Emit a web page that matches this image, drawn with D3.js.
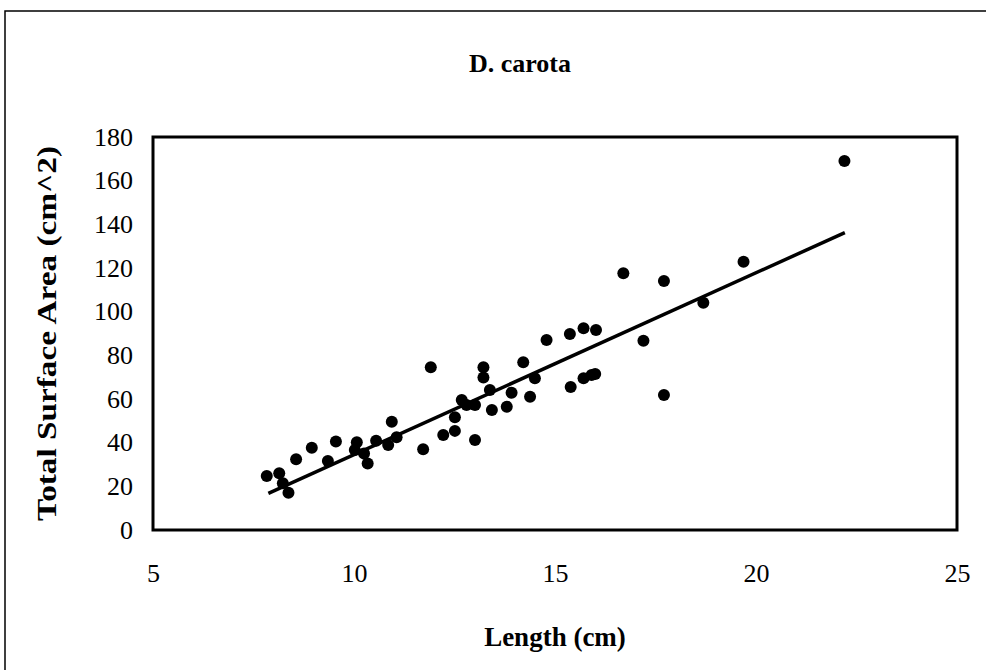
<!DOCTYPE html>
<html><head><meta charset="utf-8">
<script src="https://cdn.jsdelivr.net/npm/d3@7"></script>
<style>html,body{margin:0;padding:0;background:#fff;}svg{display:block;}</style>
</head><body>
<script>
const title = "D. carota";
const xTitle = "Length (cm)";
const yTitle = "Total Surface Area (cm^2)";
const xTicks = [5, 10, 15, 20, 25];
const yTicks = [0, 20, 40, 60, 80, 100, 120, 140, 160, 180];
const lengths = [7.83, 8.14, 8.23, 8.37, 8.56, 8.95, 9.35, 9.55, 10.07, 10.02, 10.25, 10.34, 10.55, 10.85, 10.94, 11.06, 11.72,
  11.91, 12.22, 12.51, 12.51, 12.68, 12.80, 13.01, 13.01, 13.22, 13.22, 13.38, 13.43, 13.80, 13.92, 14.21, 14.38, 14.50,
  14.79, 15.37, 15.39, 15.71, 15.71, 15.91, 16.02, 16.00, 16.70, 17.20, 17.71, 17.71, 18.69, 19.69, 22.20];
const areas = [24.7, 26.0, 21.4, 17.1, 32.4, 37.7, 31.6, 40.5, 40.2, 36.6, 35.0, 30.5, 40.9, 38.9, 49.6, 42.5, 37.0,
  74.5, 43.5, 51.6, 45.4, 59.5, 57.3, 57.3, 41.2, 74.5, 69.8, 64.1, 55.0, 56.5, 62.9, 76.8, 61.0, 69.5,
  87.0, 89.8, 65.5, 92.4, 69.5, 71.0, 91.6, 71.5, 117.6, 86.7, 114.0, 61.8, 104.1, 122.9, 169.0];
const trendX = [7.87, 22.21];
const trendY = [16.8, 136.2];

const W = 986, H = 670;
const m = {left: 153, right: 957, top: 137, bottom: 530};
const svg = d3.select("body").append("svg").attr("width", W).attr("height", H);
svg.append("rect").attr("x", 5).attr("y", 11).attr("width", W + 10).attr("height", H + 10)
  .attr("fill", "#fff").attr("stroke", "#000").attr("stroke-width", 1.5);

const x = d3.scaleLinear().domain([5, 25]).range([m.left, m.right]);
const y = d3.scaleLinear().domain([0, 180]).range([m.bottom, m.top]);
const font = "'Liberation Serif','Times New Roman',serif";

svg.append("rect").attr("x", m.left).attr("y", m.top).attr("width", m.right - m.left).attr("height", m.bottom - m.top)
  .attr("fill", "none").attr("stroke", "#000").attr("stroke-width", 3);

const xa = svg.append("g").attr("transform", `translate(0,${m.bottom})`)
  .call(d3.axisBottom(x).tickValues(xTicks).tickSize(0).tickPadding(34).tickFormat(d3.format("d")));
xa.select(".domain").remove();
xa.selectAll("text").attr("font-family", font).attr("font-size", 26).attr("fill", "#000");

const ya = svg.append("g").attr("transform", `translate(${m.left},0)`)
  .call(d3.axisLeft(y).tickValues(yTicks).tickSize(0).tickPadding(20).tickFormat(d3.format("d")));
ya.select(".domain").remove();
ya.selectAll("text").attr("font-family", font).attr("font-size", 26).attr("fill", "#000");

svg.append("text").attr("x", 520).attr("y", 72).attr("text-anchor", "middle")
  .attr("font-family", font).attr("font-weight", "bold").attr("font-size", 26).text(title);
svg.append("text").attr("x", (m.left + m.right) / 2).attr("y", 646).attr("text-anchor", "middle")
  .attr("font-family", font).attr("font-weight", "bold").attr("font-size", 27).text(xTitle);
svg.append("text").attr("transform", `translate(56,${(m.top + m.bottom) / 2}) rotate(-90)`).attr("text-anchor", "middle")
  .attr("font-family", font).attr("font-weight", "bold").attr("font-size", 28)
  .attr("textLength", 375).attr("lengthAdjust", "spacingAndGlyphs").text(yTitle);

const line = d3.line().x(d => x(d[0])).y(d => y(d[1]));
svg.append("path").datum(d3.zip(trendX, trendY)).attr("d", line)
  .attr("fill", "none").attr("stroke", "#000").attr("stroke-width", 3.5);

svg.append("g").selectAll("circle").data(d3.zip(lengths, areas)).join("circle")
  .attr("cx", d => x(d[0])).attr("cy", d => y(d[1])).attr("r", 6).attr("fill", "#000");
</script>
</body></html>
